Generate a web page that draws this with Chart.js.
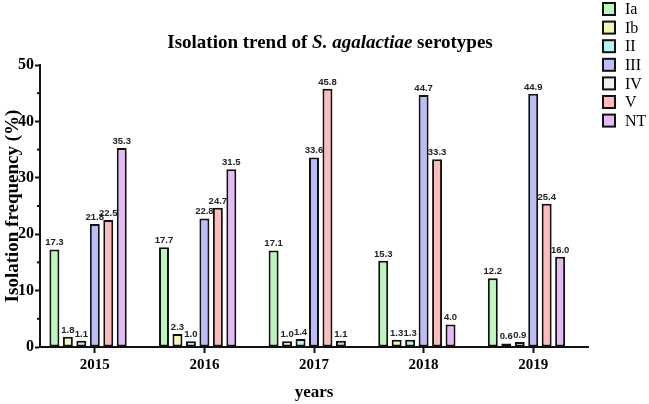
<!DOCTYPE html>
<html>
<head>
<meta charset="utf-8">
<script src="https://cdn.jsdelivr.net/npm/chart.js@4/dist/chart.umd.min.js"></script>
<style>
html,body{margin:0;padding:0;background:#fff;}
#wrap{width:649px;height:404px;position:relative;}
</style>
</head>
<body>
<div id="wrap"><canvas id="c" width="649" height="404"></canvas></div>
<script>
const years = ["2015", "2016", "2017", "2018", "2019"];
const serotypes = ["Ia", "Ib", "II", "III", "IV", "V", "NT"];
const valuesIa  = [17.3, 17.7, 17.1, 15.3, 12.2];
const valuesIb  = [1.8, 2.3, 1.0, 1.3, 0.6];
const valuesII  = [1.1, 1.0, 1.4, 1.3, 0.9];
const valuesIII = [21.8, 22.8, 33.6, 44.7, 44.9];
const valuesIV  = [null, null, null, null, null];
const valuesV   = [22.5, 24.7, 45.8, 33.3, 25.4];
const valuesNT  = [35.3, 31.5, 1.1, 4.0, 16.0];
const yTicks = [0, 10, 20, 30, 40, 50];

const colors = {
  "Ia": "#bdf5bd", "Ib": "#f5f5b8", "II": "#b8f2f5", "III": "#bcbcf8",
  "IV": "#f0f0f0", "V": "#fcbcbc", "NT": "#e4bcf5"
};
const seriesData = {"Ia": valuesIa, "Ib": valuesIb, "II": valuesII, "III": valuesIII, "IV": valuesIV, "V": valuesV, "NT": valuesNT};
// drawing order of the slots inside each group (IV has no bars, last slot)
const slotOrder = ["Ia", "Ib", "II", "III", "V", "NT", "IV"];

const datasets = slotOrder.map(k => ({
  label: k,
  data: seriesData[k],
  backgroundColor: colors[k],
  borderColor: "#111",
  borderWidth: 2,
  borderSkipped: false,
  categoryPercentage: 0.86,
  barPercentage: 0.74
}));

const serif = "'Liberation Serif', 'Times New Roman', serif";
const sans = "'Liberation Sans', Arial, sans-serif";

const decorPlugin = {
  id: "decor",
  afterDraw(chart) {
    const ctx = chart.ctx;
    const y = chart.scales.y;
    // minor ticks
    ctx.save();
    ctx.strokeStyle = "#111";
    ctx.lineWidth = 2;
    [5, 15, 25, 35, 45].forEach(v => {
      const py = y.getPixelForValue(v);
      ctx.beginPath();
      ctx.moveTo(y.right - 3, py);
      ctx.lineTo(y.right, py);
      ctx.stroke();
    });
    ctx.restore();

    // value labels
    ctx.save();
    ctx.font = "bold 9.5px " + sans;
    ctx.fillStyle = "#222";
    ctx.textAlign = "center";
    ctx.textBaseline = "bottom";
    chart.data.datasets.forEach((ds, di) => {
      const meta = chart.getDatasetMeta(di);
      meta.data.forEach((bar, i) => {
        const v = ds.data[i];
        if (v === null || v === undefined) return;
        ctx.fillText(v.toFixed(1), bar.x, bar.y - 2);
      });
    });
    ctx.restore();

    // title with italic part
    ctx.save();
    ctx.fillStyle = "#000";
    ctx.textBaseline = "middle";
    const parts = [
      ["Isolation trend of ", "bold 19px " + serif],
      ["S. agalactiae", "italic bold 19px " + serif],
      [" serotypes", "bold 19px " + serif]
    ];
    let total = 0;
    parts.forEach(p => { ctx.font = p[1]; total += ctx.measureText(p[0]).width; });
    let x = 330 - total / 2;
    ctx.textAlign = "left";
    parts.forEach(p => { ctx.font = p[1]; ctx.fillText(p[0], x, 43); x += ctx.measureText(p[0]).width; });
    ctx.restore();

    // legend
    ctx.save();
    ctx.font = "16px " + serif;
    ctx.textBaseline = "middle";
    ctx.textAlign = "left";
    serotypes.forEach((s, i) => {
      const cy = 9 + i * 18.6;
      ctx.fillStyle = colors[s];
      ctx.fillRect(603, cy - 6, 12, 12);
      ctx.strokeStyle = "#111";
      ctx.lineWidth = 2;
      ctx.strokeRect(603, cy - 6, 12, 12);
      ctx.fillStyle = "#000";
      ctx.fillText(s, 625, cy + 1);
    });
    ctx.restore();
  }
};

new Chart(document.getElementById("c"), {
  type: "bar",
  data: { labels: years, datasets: datasets },
  options: {
    responsive: false,
    animation: false,
    layout: { padding: { left: 0, right: 61, top: 65, bottom: 0 } },
    plugins: { legend: { display: false }, title: { display: false }, tooltip: { enabled: false } },
    scales: {
      x: {
        afterFit(scale) { scale.height = 57; },
        grid: { offset: false, drawOnChartArea: false, drawTicks: true, tickLength: 6, tickWidth: 2, tickColor: "#111" },
        border: { display: true, color: "#111", width: 2 },
        ticks: { color: "#000", font: { family: serif, size: 15, weight: "bold" }, padding: 3 },
        title: { display: true, text: "years", color: "#000", font: { family: serif, size: 17, weight: "bold" }, padding: { top: 0, bottom: 1 } }
      },
      y: {
        min: 0, max: 50,
        afterFit(scale) { scale.width = 40; },
        afterBuildTicks(scale) { scale.ticks = yTicks.map(v => ({ value: v })); },
        grid: { drawOnChartArea: false, drawTicks: true, tickLength: 5, tickWidth: 2, tickColor: "#111" },
        border: { display: true, color: "#111", width: 2 },
        ticks: { color: "#000", font: { family: serif, size: 16, weight: "bold" }, padding: 1 },
        title: { display: true, text: "Isolation frequency (%)", color: "#000", font: { family: serif, size: 19, weight: "bold" }, padding: { top: 2, bottom: 0 } }
      }
    }
  },
  plugins: [decorPlugin]
});
</script>
</body>
</html>
